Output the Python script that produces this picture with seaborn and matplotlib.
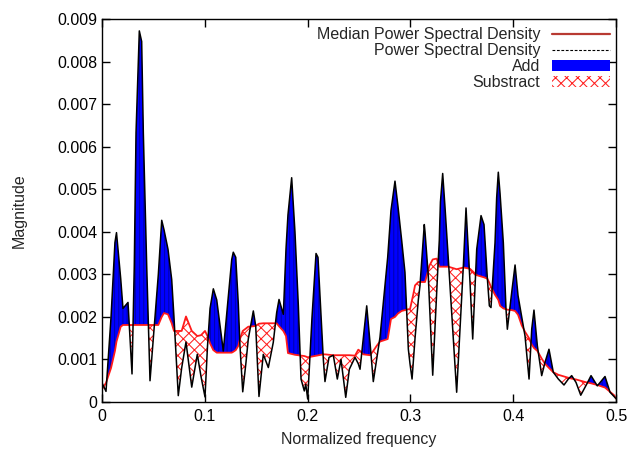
import numpy as np
import pandas as pd
import matplotlib
matplotlib.use('Agg')
import matplotlib.pyplot as plt
import seaborn as sns
from matplotlib.lines import Line2D
from matplotlib.patches import Patch
from matplotlib.ticker import FuncFormatter

# normalized frequency
freq = [0.0, 0.0039, 0.0088, 0.0126, 0.0141, 0.0182, 0.0204, 0.0253, 0.0292, 0.0314,
        0.0331, 0.0363, 0.0386, 0.0402, 0.0435, 0.0467, 0.0548, 0.0581, 0.0603, 0.0642,
        0.0678, 0.0700, 0.0742, 0.0775, 0.0817, 0.0873, 0.0927, 0.0963, 0.1002, 0.1026,
        0.1051, 0.1083, 0.1116, 0.1180, 0.1262, 0.1277, 0.1301, 0.1326, 0.1342, 0.1369,
        0.1401, 0.1423, 0.1472, 0.1495, 0.1527, 0.1569, 0.1618, 0.1666, 0.1699, 0.1722,
        0.1764, 0.1790, 0.1809, 0.1845, 0.1877, 0.1910, 0.1936, 0.1968, 0.1982, 0.2001,
        0.2043, 0.2082, 0.2101, 0.2153, 0.2169, 0.2208, 0.2250, 0.2289, 0.2325, 0.2371,
        0.2406, 0.2461, 0.2493, 0.2510, 0.2542, 0.2575, 0.2607, 0.2639, 0.2672, 0.2704,
        0.2779, 0.2811, 0.2850, 0.2879, 0.2915, 0.2947, 0.2980, 0.2996, 0.3016, 0.3028,
        0.3045, 0.3077, 0.3093, 0.3135, 0.3142, 0.3174, 0.3184, 0.3217, 0.3256, 0.3271,
        0.3281, 0.3292, 0.3314, 0.3336, 0.3369, 0.3450, 0.3515, 0.3541, 0.3580, 0.3606,
        0.3645, 0.3687, 0.3716, 0.3748, 0.3768, 0.3784, 0.3823, 0.3839, 0.3855, 0.3872,
        0.3904, 0.3930, 0.3943, 0.3985, 0.4018, 0.4047, 0.4083, 0.4115, 0.4154, 0.4180,
        0.4202, 0.4235, 0.4277, 0.4309, 0.4348, 0.4390, 0.4439, 0.4494, 0.4536, 0.4569,
        0.4611, 0.4657, 0.4715, 0.4757, 0.4818, 0.4893, 0.4942, 0.4981, 0.5000]

# power spectral density (x 1e-3)
psd = [0.45, 0.25, 2.00, 3.75, 3.98, 2.90, 2.20, 2.34, 0.66, 3.19,
       6.33, 8.72, 8.47, 6.33, 3.19, 0.50, 3.00, 4.27, 4.05, 3.59,
       2.88, 2.00, 0.15, 0.80, 1.41, 0.35, 1.12, 0.60, 0.12, 1.30,
       2.20, 2.66, 2.40, 1.20, 3.35, 3.52, 3.40, 2.30, 1.32, 0.24,
       0.94, 1.48, 2.14, 1.79, 0.13, 1.12, 0.81, 1.40, 2.10, 2.41,
       2.06, 3.60, 4.40, 5.27, 4.00, 2.26, 0.54, 0.26, 0.42, 0.07,
       2.00, 3.49, 3.40, 1.00, 0.48, 1.05, 1.10, 0.54, 1.00, 0.11,
       0.77, 1.05, 0.90, 0.77, 1.50, 2.26, 1.40, 0.48, 1.00, 1.52,
       3.40, 4.50, 5.19, 4.60, 3.80, 3.05, 1.24, 0.90, 0.54, 0.95,
       1.50, 2.40, 2.73, 4.17, 4.00, 2.96, 2.40, 0.63, 2.60, 3.35,
       3.80, 4.70, 5.37, 4.60, 3.35, 0.23, 3.20, 4.56, 2.80, 1.48,
       3.59, 4.38, 4.17, 2.92, 2.26, 2.22, 3.74, 4.80, 5.40, 4.90,
       3.74, 2.18, 1.71, 2.57, 3.22, 2.50, 2.00, 1.55, 0.54, 1.71,
       2.16, 1.32, 0.62, 0.93, 1.24, 0.70, 0.54, 0.40, 0.54, 0.62,
       0.46, 0.16, 0.42, 0.62, 0.38, 0.60, 0.23, 0.13, 0.08]

# median power spectral density (x 1e-3)
median = [0.30, 0.45, 0.80, 1.20, 1.42, 1.77, 1.81, 1.81, 1.81, 1.81,
          1.81, 1.81, 1.81, 1.81, 1.81, 1.81, 1.81, 2.00, 2.09, 2.06,
          1.85, 1.67, 1.67, 1.67, 2.01, 1.67, 1.55, 1.57, 1.67, 1.55,
          1.38, 1.22, 1.16, 1.16, 1.16, 1.18, 1.22, 1.32, 1.48, 1.67,
          1.73, 1.77, 1.78, 1.79, 1.84, 1.85, 1.85, 1.85, 1.85, 1.78,
          1.67, 1.55, 1.15, 1.13, 1.11, 1.10, 1.09, 1.08, 1.07, 1.05,
          1.07, 1.09, 1.10, 1.12, 1.12, 1.11, 1.10, 1.10, 1.10, 1.10,
          1.10, 1.09, 1.23, 1.20, 1.12, 1.11, 1.10, 1.20, 1.32, 1.42,
          1.48, 1.95, 2.00, 2.08, 2.14, 2.16, 2.18, 2.18, 2.40, 2.53,
          2.74, 2.82, 2.82, 2.82, 2.82, 3.10, 3.20, 3.35, 3.37, 3.25,
          3.18, 3.18, 3.18, 3.18, 3.18, 3.12, 3.16, 3.15, 3.13, 3.07,
          2.98, 2.95, 2.93, 2.90, 2.80, 2.70, 2.52, 2.46, 2.40, 2.26,
          2.20, 2.18, 2.17, 2.16, 2.14, 2.05, 1.80, 1.65, 1.50, 1.35,
          1.27, 1.20, 1.02, 0.90, 0.80, 0.70, 0.64, 0.60, 0.57, 0.55,
          0.53, 0.50, 0.46, 0.44, 0.40, 0.34, 0.24, 0.16, 0.08]

df = pd.DataFrame({'freq': freq,
                   'psd': np.array(psd) * 1e-3,
                   'median': np.array(median) * 1e-3})

sns.set_theme(style='ticks')
plt.rcParams['font.family'] = ['Liberation Sans', 'DejaVu Sans']
plt.rcParams['hatch.linewidth'] = 0.75
fs = 11.5

fig = plt.figure(figsize=(6.3, 4.51), dpi=100)
ax = fig.add_axes([0.1619, 0.1086, 0.9778 - 0.1619, 0.9579 - 0.1086])

x = df['freq'].values
p = df['psd'].values
m = df['median'].values

# add region (psd above median) and substract region (psd below median)
ax.fill_between(x, m, p, where=p >= m, interpolate=True, facecolor='#0000ff',
                edgecolor='#0000b0', hatch='||||', linewidth=0, zorder=1)
ax.fill_between(x, m, p, where=p < m, interpolate=True, facecolor='white',
                edgecolor='#ff2020', hatch='xxx', linewidth=0, zorder=1)

sns.lineplot(data=df, x='freq', y='median', color='#ff1a1a', linewidth=1.3,
             ax=ax, legend=False, zorder=2)
sns.lineplot(data=df, x='freq', y='psd', color='black', linewidth=1.1,
             ax=ax, legend=False, zorder=3)

ax.set_xlim(0, 0.5)
ax.set_ylim(0, 0.009)
ax.set_xticks([0, 0.1, 0.2, 0.3, 0.4, 0.5])
ax.set_yticks(np.arange(0, 0.0091, 0.001))
ax.xaxis.set_major_formatter(FuncFormatter(lambda v, pos: f'{v:g}'))
ax.yaxis.set_major_formatter(FuncFormatter(lambda v, pos: f'{round(v, 4):g}'))
ax.tick_params(direction='in', top=True, right=True, length=6, width=1,
               labelsize=fs, colors='black', pad=5)
ax.tick_params(axis='y', pad=3.5)
for s in ax.spines.values():
    s.set_linewidth(1.0)
    s.set_color('black')

ax.set_xlabel('Normalized frequency', fontsize=fs, labelpad=6)
ax.set_ylabel('Magnitude', fontsize=fs, labelpad=22)

handles = [
    Line2D([], [], color='#b83a32', linewidth=1.6),
    Line2D([], [], color='black', linewidth=0.8, dashes=(2.5, 1.5)),
    Patch(facecolor='#0000ff', edgecolor='none'),
    Patch(facecolor='white', edgecolor='#ff2020', hatch='xxx', linewidth=0),
]
labels = ['Median Power Spectral Density', 'Power Spectral Density', 'Add', 'Substract']
ax.legend(handles, labels, loc='upper right', bbox_to_anchor=(0.988, 0.978),
          frameon=False, markerfirst=False, fontsize=fs, handlelength=3.6,
          handletextpad=0.75, labelspacing=0.06, borderpad=0, borderaxespad=0)

fig.savefig('out.png', dpi=100)
